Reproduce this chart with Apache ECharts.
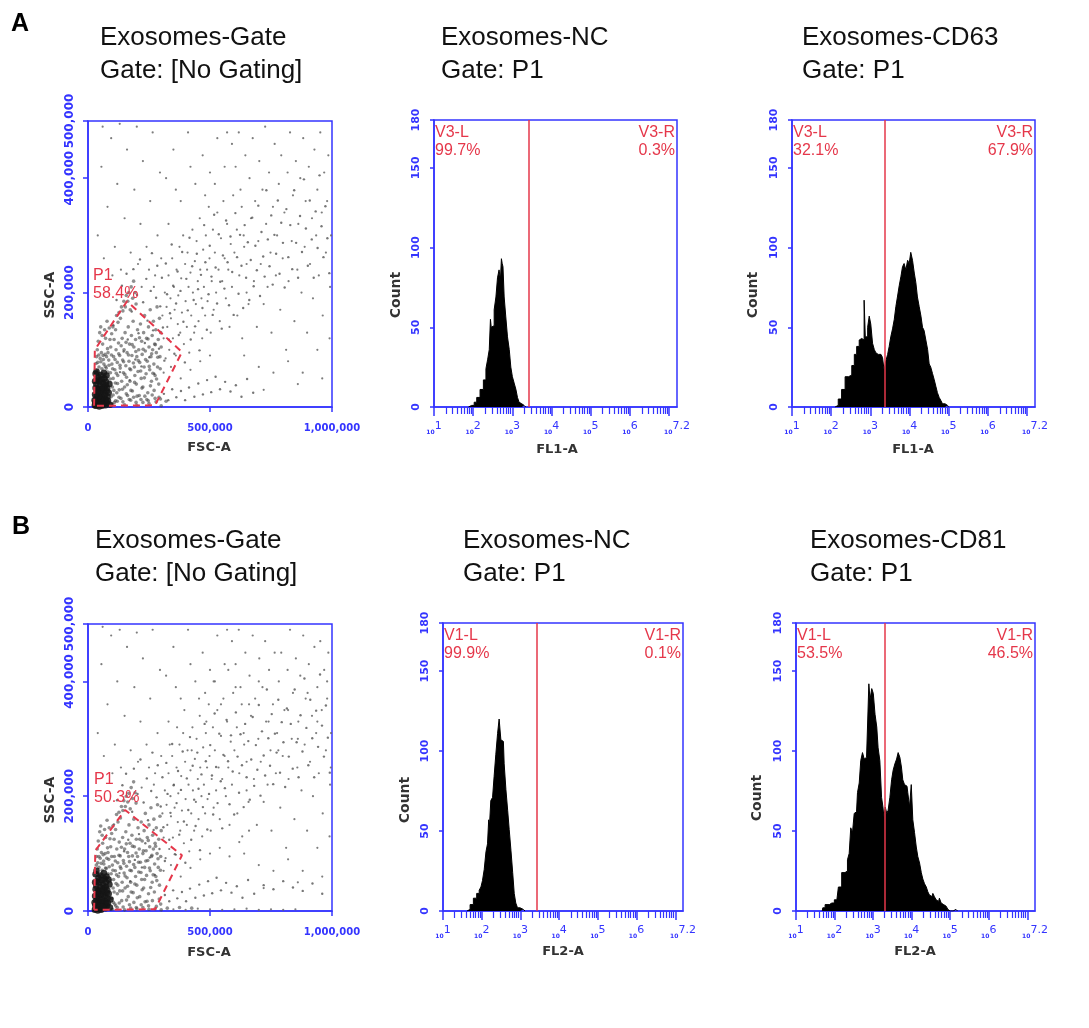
<!DOCTYPE html>
<html>
<head>
<meta charset="utf-8">
<script src="https://cdn.jsdelivr.net/npm/echarts@6/dist/echarts.min.js"></script>
<style>html,body{margin:0;padding:0;background:#fff}#c{width:1089px;height:1028px}</style>
</head>
<body>
<div id="c"></div>
<script>
// ===== DATA (scatter values in thousands of FSC-A / SSC-A units) =====
const scatterACore = [[28,3],[30,8],[32,2],[33,14],[35,5],[36,20],[38,10],[40,3],[41,26],[42,15],[44,7],[45,32],[46,1],[47,19],[49,11],[50,38],[51,4],[53,24],[54,14],[55,8],[57,30],[58,2],[60,18],[61,42],[63,10],[64,27],[66,5],[67,35],[69,15],[70,22],[72,3],[74,44],[75,12],[77,28],[78,7],[80,18],[29,22],[31,33],[34,40],[37,47],[39,30],[43,52],[48,45],[52,56],[56,48],[59,5],[62,34],[65,60],[68,50],[73,38],[76,55],[79,33],[82,11],[85,25],[88,40],[90,4],[27,12],[29,45],[31,58],[35,62]];
const scatterADense = [[92,60],[95,18],[98,75],[100,35],[103,50],[105,88],[108,8],[110,65],[112,42],[115,100],[118,25],[120,78],[122,55],[125,112],[128,30],[130,90],[132,68],[135,15],[138,45],[140,120],[142,82],[145,60],[148,100],[150,35],[152,130],[155,72],[158,52],[160,95],[162,20],[165,140],[168,80],[170,110],[172,45],[175,65],[178,125],[180,90],[182,28],[185,150],[188,105],[190,70],[192,55],[195,118],[198,40],[200,88],[203,135],[205,62],[208,100],[210,20],[212,78],[215,145],[218,50],[220,115],[222,92],[225,35],[228,130],[230,70],[232,160],[235,98],[238,58],[240,120],[243,80],[245,25],[248,140],[250,105],[253,65],[255,170],[258,88],[260,45],[263,125],[265,100],[268,150],[270,75],[273,110],[275,55],[278,135],[280,95],[283,175],[285,70],[288,118],[290,40],[293,155],[295,88],[298,130],[300,105],[45,70],[50,85],[55,95],[60,110],[40,78],[65,75],[70,92],[75,68],[80,102],[85,82],[90,118],[35,88],[38,100],[42,115],[48,130],[52,140],[58,125],[62,90],[68,135],[72,120],[78,150],[82,95],[87,138],[93,105],[97,128],[102,140],[107,118],[113,135],[117,160],[123,148],[127,165],[133,155],[137,175],[143,168],[147,185],[153,175],[157,195],[163,185],[167,200],[173,170],[177,210],[183,190],[187,220],[193,200],[197,180],[100,5],[150,4],[200,3],[250,6],[300,2],[120,10],[175,12],[225,8],[275,15],[320,10],
[33,76],[37,63],[44,91],[49,58],[53,79],[57,67],[63,83],[67,54],[71,71],[76,88],[81,61],[86,73],[91,49],[96,91],[101,67],[106,29],[111,83],[116,59],[121,41],[126,93],[131,73],[136,107],[141,31],[146,79],[151,57],[156,113],[161,39],[166,91],[171,67],[176,29],[181,109],[186,77],[191,43],[196,97],[201,19],[206,81],[211,121],[216,63],[221,33],[226,101],[231,51],[236,83],[241,13],[246,119],[251,71],[256,37],[261,93],[266,59],[271,29],[276,109],[281,49],[286,87],[291,17],[296,67],[103,21],[113,11],[127,17],[143,9],[157,23],[169,13],[187,17],[197,8],[217,13],[233,19],[247,11],[263,21],[279,9],[297,14]];
const scatterAMid = [[104,143],[117,187],[131,61],[139,212],[146,97],[158,233],[163,118],[171,47],[179,167],[186,241],[194,83],[201,196],[207,129],[213,258],[219,71],[226,183],[233,112],[239,224],[244,151],[251,87],[257,203],[262,269],[267,134],[272,58],[279,191],[284,247],[291,102],[296,176],[303,226],[307,139],[313,81],[319,251],[324,197],[331,118],[336,164],[343,284],[349,212],[354,93],[361,181],[367,237],[372,126],[379,203],[386,271],[391,149],[397,78],[403,224],[409,169],[416,296],[421,118],[427,246],[433,187],[439,141],[446,268],[451,206],[457,99],[463,231],[469,173],[476,318],[481,253],[487,135],[494,197],[499,282],[506,228],[511,161],[517,336],[523,244],[529,181],[536,302],[542,219],[548,137],[553,265],[559,207],[566,326],[572,253],[578,178],[584,298],[591,236],[597,161],[604,339],[611,262],[617,198],[623,301],[629,247],[636,173],[642,318],[648,226],[655,288],[661,187],[667,257],[673,331],[679,211],[686,282],[692,239],[698,352],[705,194],[711,306],[718,263],[724,228],[731,379],[737,293],[744,246],[751,335],[757,214],[764,301],[771,268],[778,361],[785,233],[792,322],[799,287],[806,209],[813,346],[821,262],[829,318],[837,241],[845,379],[853,287],[861,226],[869,334],[877,271],[885,398],[893,312],[901,247],[909,361],[917,293],[925,226],[933,342],[941,278],[949,405],[957,316],[965,262],[973,351],[981,295],[989,234],[311,23],[329,12],[345,31],[362,17],[381,28],[398,12],[414,34],[436,18],[452,41],[471,22],[488,47],[505,26],[523,53],[541,31],[562,44],[584,27],[606,38],[629,18],[652,49],[677,25]];
const scatterASparse = [[305,160],[310,120],[315,200],[318,85],[322,175],[325,140],[330,230],[333,100],[338,190],[340,155],[345,260],[348,120],[352,210],[355,170],[360,90],[363,240],[368,145],[370,195],[375,280],[378,130],[382,225],[385,165],[390,300],[393,110],[398,250],[400,185],[405,140],[408,270],[412,210],[415,95],[420,235],[423,160],[428,310],[430,200],[435,130],[438,255],[442,180],[445,290],[450,220],[453,150],[458,330],[460,240],[465,190],[468,120],[472,275],[475,210],[480,160],[483,300],[488,240],[490,185],[495,350],[498,260],[503,130],[507,220],[512,310],[515,170],[520,270],[525,200],[530,340],[535,240],[540,150],[545,295],[550,220],[555,360],[560,260],[565,190],[570,320],[575,240],[580,140],[585,285],[590,210],[595,370],[600,270],[610,310],[620,230],[630,350],[640,280],[650,200],[310,60],[340,70],[380,50],[420,65],[460,80],[500,90],
[605,420],[612,160],[618,480],[625,380],[632,120],[638,300],[645,440],[650,250],[658,180],[662,400],[668,330],[675,470],[680,220],[685,360],[692,140],[698,290],[702,430],[708,250],[715,380],[720,180],[726,490],[730,320],[736,210],[742,410],[748,270],[752,130],[758,350],[765,460],[770,230],[775,300],[782,390],[788,170],[792,440],[798,260],[805,340],[812,100],[818,410],[822,220],[828,480],[835,290],[840,370],[846,150],[852,430],[858,240],[862,320],[870,400],[875,200],[882,470],[888,280],[892,360],[898,130],[905,420],[910,250],[918,330],[922,190],[928,450],[935,300],[940,380],[946,230],[952,480],[958,340],[962,160],[968,410],[975,270],[980,360],[985,440],[992,210],[996,300],[640,90],[700,70],[760,60],[820,80],[880,60],[940,100],[990,120],[720,30],[860,40],[960,50],
[40,300],[55,420],[65,260],[80,350],[95,470],[110,280],[120,390],[135,240],[150,330],[160,450],[175,270],[190,380],[205,250],[215,320],[225,430],[240,280],[255,360],[265,480],[275,230],[285,300],[295,410],[60,490],[130,495],[200,490],[250,240],[270,210],[300,260],[100,230],[220,210],
[320,400],[350,450],[380,360],[410,480],[440,390],[470,440],[500,410],[530,470],[560,420],[590,460],[330,320],[360,380],[420,420],[480,370],[520,390],[570,480]];

const scatterBCore = [[28,2],[30,10],[32,4],[33,18],[35,7],[36,25],[38,12],[40,1],[41,30],[42,17],[44,6],[45,36],[46,3],[47,22],[49,9],[50,42],[51,14],[53,28],[54,2],[55,11],[57,34],[58,20],[60,5],[61,46],[63,15],[64,30],[66,8],[67,40],[69,18],[70,26],[72,5],[74,50],[75,14],[77,32],[78,9],[80,22],[29,26],[31,38],[34,44],[37,52],[39,34],[43,58],[48,50],[52,62],[56,54],[59,8],[62,38],[65,66],[68,56],[73,42],[76,60],[79,36],[82,14],[85,30],[88,46],[90,6],[27,15],[29,50],[31,64],[35,70],[84,55],[92,20]];
const scatterBDense = [[95,65],[98,22],[100,80],[103,40],[105,55],[108,95],[110,12],[112,70],[115,48],[118,108],[120,30],[122,84],[125,60],[128,120],[130,35],[132,96],[135,74],[138,18],[140,50],[142,128],[145,88],[148,66],[150,108],[152,40],[155,138],[158,78],[160,58],[162,102],[165,25],[168,150],[170,86],[172,118],[175,50],[178,70],[180,132],[182,96],[185,32],[188,160],[190,112],[192,76],[195,60],[198,125],[200,45],[203,95],[205,145],[208,68],[210,108],[212,25],[215,85],[218,155],[220,55],[222,122],[225,100],[228,40],[230,140],[232,76],[235,170],[238,105],[240,62],[243,128],[245,88],[248,30],[250,150],[253,112],[255,70],[258,180],[260,95],[263,50],[265,132],[268,108],[270,160],[273,82],[275,118],[278,60],[280,145],[283,100],[285,185],[288,76],[290,125],[293,45],[295,165],[298,95],[300,140],[45,76],[50,92],[55,102],[60,118],[40,84],[65,82],[70,100],[75,74],[80,110],[85,90],[90,126],[35,95],[38,108],[42,122],[48,138],[52,148],[58,132],[62,98],[68,142],[72,128],[78,158],[82,102],[87,145],[93,112],[97,135],[102,148],[107,125],[113,142],[117,168],[123,155],[127,172],[133,162],[137,182],[143,175],[147,192],[153,182],[157,200],[163,190],[167,205],[173,178],[177,215],[183,196],[187,225],[193,206],[197,188],[100,3],[150,2],[200,4],[250,3],[300,2],[120,6],[175,5],[225,6],[275,4],[325,5],[375,6],[425,5],
[34,80],[38,67],[45,95],[50,62],[54,83],[58,71],[64,87],[68,58],[72,75],[77,92],[82,65],[87,77],[92,53],[97,95],[102,71],[107,33],[112,87],[117,63],[122,45],[127,97],[132,77],[137,111],[142,35],[147,83],[152,61],[157,117],[162,43],[167,95],[172,71],[177,33],[182,113],[187,81],[192,47],[197,101],[202,23],[207,85],[212,125],[217,67],[222,37],[227,105],[232,55],[237,87],[242,17],[247,123],[252,75],[257,41],[262,97],[267,63],[272,33],[277,113],[282,53],[287,91],[292,21],[297,71],[104,15],[114,9],[128,14],[144,7],[158,19],[170,11],[188,15],[198,6],[218,11],[234,16],[248,9],[264,18],[280,8],[298,12]];
const scatterBMid = [[106,151],[119,193],[129,66],[141,219],[148,104],[156,239],[165,124],[173,52],[181,173],[188,248],[192,89],[203,204],[209,134],[215,264],[221,76],[228,189],[235,118],[241,231],[246,158],[253,93],[259,209],[264,276],[269,141],[274,63],[281,198],[286,254],[293,108],[298,182],[305,233],[309,146],[315,87],[321,258],[326,204],[333,124],[338,171],[345,291],[351,219],[356,99],[363,188],[369,244],[374,133],[381,211],[388,278],[393,156],[399,84],[405,231],[411,176],[418,303],[423,124],[429,253],[435,194],[441,148],[448,276],[453,213],[459,106],[465,238],[471,181],[478,326],[483,261],[489,142],[496,204],[501,289],[508,236],[513,168],[519,344],[525,251],[531,188],[538,309],[544,226],[550,144],[555,272],[561,214],[568,333],[574,261],[580,186],[586,306],[593,243],[599,168],[606,346],[613,269],[619,206],[625,308],[631,254],[638,181],[644,326],[650,233],[657,296],[663,194],[669,264],[675,338],[681,218],[688,289],[694,246],[700,359],[707,201],[713,313],[720,271],[726,236],[733,386],[739,301],[746,253],[753,343],[759,221],[766,309],[773,276],[780,368],[787,241],[794,329],[801,294],[808,216],[815,353],[823,269],[831,326],[839,248],[847,386],[855,294],[863,233],[871,341],[879,278],[887,405],[895,319],[903,254],[911,368],[919,301],[927,233],[935,349],[943,286],[951,412],[959,323],[967,269],[975,358],[983,302],[991,241],[315,28],[333,17],[349,36],[366,22],[385,33],[402,17],[418,39],[440,23],[456,46],[475,27],[492,52],[509,31],[527,58],[545,36],[566,49],[588,32],[610,43],[633,23],[656,54],[681,30],[720,45],[760,38],[800,52],[840,41],[880,35],[920,48],[960,30]];
const scatterBSparse = [[350,3],[400,2],[450,4],[500,3],[550,2],[600,3],[650,4],[700,2],[750,3],[800,2],[850,3],
[305,170],[310,128],[315,210],[318,92],[322,185],[325,150],[330,240],[333,108],[338,200],[340,165],[345,270],[348,128],[352,220],[355,180],[360,98],[363,250],[368,155],[370,205],[375,290],[378,140],[382,235],[385,175],[390,310],[393,118],[398,260],[400,195],[405,150],[408,280],[412,220],[415,104],[420,245],[423,170],[428,320],[430,210],[435,140],[438,265],[442,190],[445,300],[450,230],[453,160],[458,340],[460,250],[465,200],[468,130],[472,285],[475,220],[480,170],[483,310],[488,250],[490,195],[495,360],[498,270],[503,140],[507,230],[512,320],[515,180],[520,280],[525,210],[530,350],[535,250],[540,160],[545,305],[550,230],[555,370],[560,270],[565,200],[570,330],[575,250],[580,150],[585,295],[590,220],[595,380],[600,280],[610,320],[620,240],[630,360],[640,290],[650,210],[310,70],[340,80],[380,60],[420,75],[460,90],[500,100],[540,110],[580,95],[620,120],[660,140],[335,290],[365,320],[395,350],[425,280],[455,370],[485,330],[515,400],[545,360],[575,420],[605,390],
[605,430],[612,170],[618,490],[625,390],[632,130],[638,310],[645,450],[650,260],[658,190],[662,410],[668,340],[675,480],[680,230],[685,370],[692,150],[698,300],[702,440],[708,260],[715,390],[720,190],[726,470],[730,330],[736,220],[742,420],[748,280],[752,140],[758,360],[765,450],[770,240],[775,310],[782,400],[788,180],[792,450],[798,270],[805,350],[812,110],[818,420],[822,230],[828,490],[835,300],[840,380],[846,160],[852,440],[858,250],[862,330],[870,410],[875,210],[882,480],[888,290],[892,370],[898,140],[905,430],[910,260],[918,340],[922,200],[928,460],[935,310],[940,390],[946,240],[952,470],[958,350],[962,170],[968,420],[975,280],[980,370],[985,450],[992,220],[996,310],[640,100],[700,80],[760,70],[820,90],[880,70],[940,110],[990,130],[720,40],[860,50],[960,60],[660,360],[700,400],[740,330],[780,280],[820,350],[860,300],[900,380],[940,330],[980,400],[995,250],
[40,310],[55,430],[65,270],[80,360],[95,480],[110,290],[120,400],[135,250],[150,340],[160,460],[175,280],[190,390],[205,260],[215,330],[225,440],[240,290],[255,370],[265,490],[275,240],[285,310],[295,420],[60,495],[130,490],[200,485],[250,250],[270,220],[300,270],[100,240],[220,215],[320,410],[350,460],[380,370],[410,490],[440,400],[470,450],[500,420],[530,480],[560,430],[590,470],[330,330],[360,390],[420,430],[480,380],[520,400],[570,490]];

// P1 gate polygons (thousands)
const gateAPolygon = [[25,2],[28,100],[160,185],[385,96],[275,3]];
const gateBPolygon = [[25,2],[30,105],[152,176],[385,97],[275,3]];

// Histograms: [log10(FL), count]
const histANC = [[1.88,0],[1.92,1],[2.00,1],[2.05,3],[2.13,6],[2.22,11],[2.30,17],[2.35,24],[2.39,30],[2.43,36],[2.45,55],[2.47,50],[2.51,51],[2.56,61],[2.60,69],[2.64,81],[2.68,86],[2.71,80],[2.73,93],[2.75,90],[2.77,88],[2.81,69],[2.85,57],[2.90,44],[2.94,36],[2.98,25],[3.02,19],[3.07,15],[3.11,11],[3.15,6],[3.19,3],[3.24,2],[3.30,1],[3.34,0]];
const histACD63 = [[2.10,0],[2.14,1],[2.22,5],[2.31,11],[2.40,19],[2.48,20],[2.57,26],[2.61,33],[2.69,38],[2.74,42],[2.78,43],[2.82,42],[2.86,67],[2.88,44],[2.91,44],[2.95,50],[2.99,57],[3.03,52],[3.08,40],[3.12,36],[3.16,34],[3.20,33],[3.25,33],[3.29,32],[3.33,31],[3.37,23],[3.42,29],[3.46,33],[3.50,38],[3.54,44],[3.59,49],[3.63,55],[3.67,63],[3.71,69],[3.76,76],[3.80,82],[3.84,88],[3.88,90],[3.93,86],[3.97,92],[4.01,90],[4.05,97],[4.10,92],[4.14,84],[4.18,78],[4.22,69],[4.27,63],[4.31,57],[4.35,50],[4.39,48],[4.44,42],[4.48,36],[4.52,27],[4.56,25],[4.61,21],[4.65,17],[4.69,13],[4.73,9],[4.78,6],[4.82,4],[4.86,2],[4.95,1],[4.99,0]];
const histBNC = [[1.62,0],[1.66,1],[1.74,4],[1.83,8],[1.91,11],[1.96,13],[2.00,15],[2.04,19],[2.09,26],[2.13,37],[2.17,42],[2.19,57],[2.21,53],[2.26,69],[2.30,71],[2.34,84],[2.39,98],[2.43,111],[2.47,120],[2.52,107],[2.56,106],[2.60,92],[2.65,76],[2.69,63],[2.73,51],[2.78,38],[2.82,24],[2.86,11],[2.90,5],[2.95,2],[3.03,1],[3.12,0]];
const histBCD81 = [[1.68,0],[1.71,2],[1.80,4],[1.93,5],[2.06,7],[2.14,15],[2.23,24],[2.31,25],[2.36,32],[2.40,36],[2.44,52],[2.49,49],[2.53,61],[2.57,62],[2.62,74],[2.66,80],[2.70,94],[2.75,99],[2.79,95],[2.83,96],[2.88,115],[2.90,142],[2.94,132],[2.99,139],[3.02,136],[3.08,123],[3.11,115],[3.15,102],[3.20,94],[3.24,71],[3.27,65],[3.29,59],[3.34,65],[3.37,61],[3.41,63],[3.46,71],[3.50,82],[3.54,88],[3.59,92],[3.63,95],[3.67,99],[3.72,96],[3.75,90],[3.79,82],[3.84,79],[3.88,78],[3.92,74],[3.97,65],[4.01,79],[4.05,57],[4.10,49],[4.14,40],[4.18,34],[4.23,30],[4.27,24],[4.31,20],[4.36,17],[4.40,15],[4.44,12],[4.48,10],[4.53,9],[4.57,11],[4.61,9],[4.66,7],[4.70,6],[4.74,8],[4.79,5],[4.83,4],[4.87,3],[4.92,2],[4.96,1],[5.00,0],[5.15,1],[5.19,0]];

// gate marker positions (log10 units)
const gateANC = 3.42, gateACD63 = 3.37, gateBNC = 3.43, gateBCD81 = 3.31;

// tick labels
const scatterXTicks = [0, 500, 1000];
const scatterYTicks = [0, 200, 400, 500];
const histYTicks = [0, 50, 100, 150, 180];
const histXMajor = [1, 2, 3, 4, 5, 6, 7];
const histXLabels = [1, 2, 3, 4, 5, 6, 7.2];

// texts
const titlesA = [['Exosomes-Gate', 'Gate: [No Gating]'], ['Exosomes-NC', 'Gate: P1'], ['Exosomes-CD63', 'Gate: P1']];
const titlesB = [['Exosomes-Gate', 'Gate: [No Gating]'], ['Exosomes-NC', 'Gate: P1'], ['Exosomes-CD81', 'Gate: P1']];
const gateTexts = [
  ['V3-L', '99.7%', 'V3-R', '0.3%'],
  ['V3-L', '32.1%', 'V3-R', '67.9%'],
  ['V1-L', '99.9%', 'V1-R', '0.1%'],
  ['V1-L', '53.5%', 'V1-R', '46.5%']
];
const p1Texts = [['P1', '58.4%'], ['P1', '50.3%']];

// ===== STYLE / LAYOUT =====
const BLUE = '#3434ff', RED = '#e5374a', DARK = '#333';
const grids = [
  {left: 88, top: 121, width: 244, height: 286},
  {left: 434, top: 120, width: 243, height: 287},
  {left: 792, top: 120, width: 243, height: 287},
  {left: 88, top: 624, width: 244, height: 287},
  {left: 443, top: 623, width: 240, height: 288},
  {left: 796, top: 623, width: 239, height: 288}
];
const minorLog = [];
for (let d = 1; d <= 7; d++) for (let k = 2; k <= 9; k++) { const v = d + Math.log10(k); if (v < 7.2) minorLog.push(v); }

const xAxis = [], yAxis = [], series = [];
const lblFont = {color: BLUE, fontFamily: 'DejaVu Sans', fontWeight: 'bold'};
const fmtK = v => v === 0 ? '0' : (v * 1000).toLocaleString('en-US');

function scatterPanel(gi, core, dense, mid, sparse, poly) {
  const xi = xAxis.length, yi = yAxis.length;
  xAxis.push({gridIndex: gi, type: 'value', min: 0, max: 1000,
    axisLine: {show: true, onZero: false, lineStyle: {color: BLUE, width: 1.5}},
    axisTick: {show: true, customValues: scatterXTicks, length: 5, lineStyle: {color: BLUE, width: 1.5}},
    axisLabel: Object.assign({customValues: scatterXTicks, fontSize: 10, margin: 16, formatter: fmtK}, lblFont),
    splitLine: {show: false}});
  yAxis.push({gridIndex: gi, type: 'value', min: 0, max: 500,
    axisLine: {show: true, onZero: false, lineStyle: {color: BLUE, width: 1.5}},
    axisTick: {show: true, customValues: scatterYTicks, length: 5, lineStyle: {color: BLUE, width: 1.5}},
    axisLabel: Object.assign({customValues: scatterYTicks, fontSize: 12, margin: 12, rotate: 90, formatter: fmtK}, lblFont),
    splitLine: {show: false}});
  const common = {type: 'scatter', xAxisIndex: xi, yAxisIndex: yi, silent: true, animation: false};
  series.push(Object.assign({data: sparse, symbolSize: 2.2, itemStyle: {color: '#666', opacity: 0.85}}, common));
  series.push(Object.assign({data: mid, symbolSize: 2.4, itemStyle: {color: '#555', opacity: 0.8}}, common));
  series.push(Object.assign({data: dense, symbolSize: 3.6, itemStyle: {color: '#444', opacity: 0.6}}, common));
  series.push(Object.assign({data: core, symbolSize: 6.5, itemStyle: {color: '#151515', opacity: 0.85}}, common));
  series.push({type: 'line', xAxisIndex: xi, yAxisIndex: yi, data: poly.concat([poly[0]]), symbol: 'none', silent: true,
    animation: false, z: 5, lineStyle: {color: RED, width: 2, type: [7, 5]}});
}

function histPanel(gi, data, gate) {
  const xi = xAxis.length, yi = yAxis.length;
  xAxis.push({gridIndex: gi, type: 'value', min: 1, max: 7.2,
    axisLine: {show: true, onZero: false, lineStyle: {color: BLUE, width: 1.5}},
    axisTick: {show: true, customValues: histXMajor, length: 9, lineStyle: {color: BLUE, width: 1.5}},
    axisLabel: {customValues: histXLabels, margin: 14,
      formatter: v => '{b|10}{e|' + (Math.abs(v - 7.2) < 1e-6 ? '7.2' : String(Math.round(v))) + '}',
      rich: {
        b: {fontSize: 6, color: BLUE, fontFamily: 'DejaVu Sans', fontWeight: 'bold', lineHeight: 14, verticalAlign: 'bottom'},
        e: {fontSize: 11, color: BLUE, fontFamily: 'DejaVu Sans', lineHeight: 14, verticalAlign: 'top'}
      }},
    splitLine: {show: false}});
  xAxis.push({gridIndex: gi, type: 'value', min: 1, max: 7.2, position: 'bottom',
    axisLine: {show: false}, axisLabel: {show: false}, splitLine: {show: false},
    axisTick: {show: true, customValues: minorLog, length: 7, lineStyle: {color: BLUE, width: 1.2}}});
  yAxis.push({gridIndex: gi, type: 'value', min: 0, max: 180,
    axisLine: {show: true, onZero: false, lineStyle: {color: BLUE, width: 1.5}},
    axisTick: {show: true, customValues: histYTicks, length: 4, lineStyle: {color: BLUE, width: 1.5}},
    axisLabel: Object.assign({customValues: histYTicks, fontSize: 11, margin: 12, rotate: 90}, lblFont),
    splitLine: {show: false}});
  series.push({type: 'line', step: 'middle', xAxisIndex: xi, yAxisIndex: yi, data: data, symbol: 'none',
    silent: true, animation: false, lineStyle: {color: '#000', width: 1}, areaStyle: {color: '#000', opacity: 1},
    markLine: {silent: true, symbol: ['none', 'none'], label: {show: false}, animation: false,
      lineStyle: {color: RED, width: 1.5, type: 'solid'}, data: [{xAxis: gate}]}});
}

scatterPanel(0, scatterACore, scatterADense, scatterAMid, scatterASparse, gateAPolygon);
histPanel(1, histANC, gateANC);
histPanel(2, histACD63, gateACD63);
scatterPanel(3, scatterBCore, scatterBDense, scatterBMid, scatterBSparse, gateBPolygon);
histPanel(4, histBNC, gateBNC);
histPanel(5, histBCD81, gateBCD81);

// ===== TEXT GRAPHICS =====
const graphic = [];
function txt(text, x, y, o) {
  o = o || {};
  graphic.push({type: 'text', x: x, y: y, rotation: o.rot || 0, silent: true, z: 100,
    style: {text: text, font: o.font || '26px "Liberation Sans", Arial, sans-serif', fill: o.fill || '#111',
      textAlign: o.align || 'left', align: o.align || 'left', textVerticalAlign: 'middle', verticalAlign: 'middle'}});
}
const titleXA = [100, 441, 802], titleXB = [95, 463, 810];
titlesA.forEach((t, i) => { txt(t[0], titleXA[i], 38); txt(t[1], titleXA[i], 71); });
titlesB.forEach((t, i) => { txt(t[0], titleXB[i], 541); txt(t[1], titleXB[i], 574); });
txt('A', 11, 24, {font: 'bold 25px "Liberation Sans", Arial, sans-serif', fill: '#000'});
txt('B', 12, 527, {font: 'bold 25px "Liberation Sans", Arial, sans-serif', fill: '#000'});

const nameFont = 'bold 13px "DejaVu Sans", sans-serif';
const nameFontV = 'bold 14px "DejaVu Sans", sans-serif';
txt('SSC-A', 50, 295, {font: nameFontV, fill: DARK, align: 'center', rot: Math.PI / 2});
txt('SSC-A', 50, 800, {font: nameFontV, fill: DARK, align: 'center', rot: Math.PI / 2});
txt('FSC-A', 209, 448, {font: nameFont, fill: DARK, align: 'center'});
txt('FSC-A', 209, 953, {font: nameFont, fill: DARK, align: 'center'});
[[396, 295], [753, 295], [405, 800], [757, 798]].forEach(p => txt('Count', p[0], p[1], {font: nameFontV, fill: DARK, align: 'center', rot: Math.PI / 2}));
txt('FL1-A', 557, 450, {font: nameFont, fill: DARK, align: 'center'});
txt('FL1-A', 913, 450, {font: nameFont, fill: DARK, align: 'center'});
txt('FL2-A', 563, 952, {font: nameFont, fill: DARK, align: 'center'});
txt('FL2-A', 915, 952, {font: nameFont, fill: DARK, align: 'center'});

const gFont = '16px "Liberation Sans", Arial, sans-serif';
const gatePos = [[435, 675, 133], [793, 1033, 133], [444, 681, 636], [797, 1033, 636]];
gateTexts.forEach((g, i) => {
  const p = gatePos[i];
  txt(g[0], p[0], p[2], {font: gFont, fill: RED});
  txt(g[1], p[0], p[2] + 18, {font: gFont, fill: RED});
  txt(g[2], p[1], p[2], {font: gFont, fill: RED, align: 'right'});
  txt(g[3], p[1], p[2] + 18, {font: gFont, fill: RED, align: 'right'});
});
const p1Pos = [[93, 276], [94, 780]];
p1Texts.forEach((g, i) => {
  txt(g[0], p1Pos[i][0], p1Pos[i][1], {font: gFont, fill: RED});
  txt(g[1], p1Pos[i][0], p1Pos[i][1] + 18, {font: gFont, fill: RED});
});

const chart = echarts.init(document.getElementById('c'), null, {renderer: 'canvas'});
chart.setOption({
  backgroundColor: '#fff',
  animation: false,
  grid: grids.map(g => Object.assign({show: true, borderColor: BLUE, borderWidth: 1.5, backgroundColor: 'transparent'}, g)),
  xAxis: xAxis, yAxis: yAxis, series: series, graphic: graphic
});
</script>
</body>
</html>
